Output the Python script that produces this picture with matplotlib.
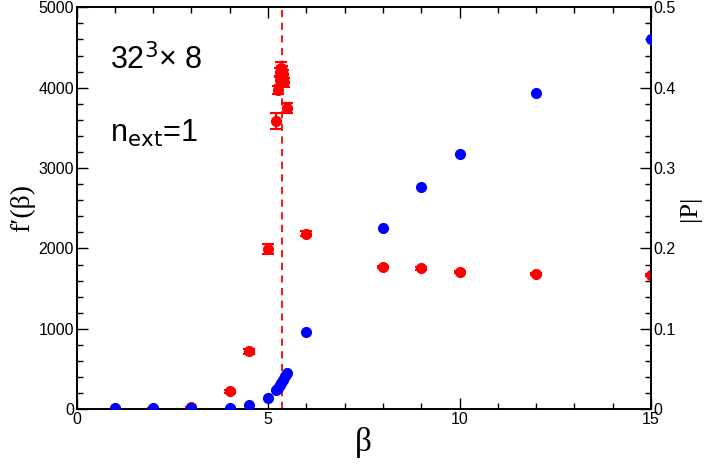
import matplotlib
matplotlib.use("Agg")
import matplotlib.pyplot as plt
from matplotlib.ticker import MultipleLocator, FuncFormatter

# f'(beta), left axis (red)
beta_f = [1, 2, 3, 4, 4.5, 5, 5.2, 5.25, 5.3, 5.32, 5.34, 5.36, 5.38, 5.4, 5.42, 5.5, 6, 8, 9, 10, 12, 15]
fprime = [5, 8, 25, 225, 720, 1990, 3590, 3970, 4090, 4190, 4250, 4215, 4165, 4115, 4065, 3745, 2185, 1768, 1752, 1705, 1680, 1668]
fprime_err = [3, 3, 5, 20, 35, 62, 100, 50, 60, 60, 70, 60, 55, 50, 50, 60, 30, 15, 15, 15, 15, 15]

# |P|, right axis (blue)
beta_p = [1, 2, 3, 4, 4.5, 5, 5.2, 5.25, 5.3, 5.35, 5.4, 5.45, 5.5, 6, 8, 9, 10, 12, 15]
polyakov = [0.001, 0.001, 0.001, 0.002, 0.0058, 0.014, 0.0236, 0.027, 0.030, 0.033, 0.037, 0.041, 0.0448, 0.0958, 0.2255, 0.276, 0.318, 0.394, 0.461]

beta_c = 5.37

serif = ["Liberation Serif", "DejaVu Serif"]
sans = ["Liberation Sans", "DejaVu Sans"]
plt.rcParams["font.family"] = sans

fig = plt.figure(figsize=(7.06, 4.66), dpi=100)
ax = fig.add_axes([0.1084, 0.1217, 0.8137, 0.8626])
ax2 = ax.twinx()

ax.errorbar(beta_f, fprime, yerr=fprime_err, fmt="o", color="red", ms=7,
            mec="red", ecolor="red", elinewidth=1.5, capsize=4.5, capthick=1.5, zorder=3)
ax.axvline(beta_c, color="red", ls=(0, (4, 3)), lw=1.3, zorder=2)
ax2.plot(beta_p, polyakov, "o", color="blue", ms=7, zorder=4)

ax.set_xlim(0, 15)
ax.set_ylim(0, 5000)
ax2.set_ylim(0, 0.5)

ax.xaxis.set_major_locator(MultipleLocator(5))
ax.xaxis.set_minor_locator(MultipleLocator(1))
ax.yaxis.set_major_locator(MultipleLocator(1000))
ax.yaxis.set_minor_locator(MultipleLocator(200))
ax2.yaxis.set_major_locator(MultipleLocator(0.1))
ax2.yaxis.set_minor_locator(MultipleLocator(0.02))
ax2.yaxis.set_major_formatter(FuncFormatter(lambda v, p: "0" if abs(v) < 1e-9 else f"{v:.1f}"))

ax.tick_params(which="both", direction="in", top=True, right=False, labelsize=11.5, width=1)
ax.tick_params(which="major", length=8)
ax.tick_params(which="minor", length=4.5)
ax2.tick_params(which="both", direction="in", labelsize=11.5, width=1)
ax2.tick_params(which="major", length=8)
ax2.tick_params(which="minor", length=4.5)
ax.tick_params(axis="x", pad=2)
ax.tick_params(axis="y", pad=2)
ax2.tick_params(axis="y", pad=2)

for a in (ax, ax2):
    for s in a.spines.values():
        s.set_linewidth(1.2)

ax.set_xlabel("β", family=serif, fontsize=24, labelpad=0)
ax.set_ylabel("f′(β)", family=serif, fontsize=20, labelpad=2)
ax2.set_ylabel("|P|", family=serif, fontsize=19, labelpad=2)

ax.text(0.058, 0.845, r"32$^{3}$× 8", transform=ax.transAxes, fontsize=22)
ax.text(0.058, 0.665, r"n$_{\mathrm{ext}}$=1", transform=ax.transAxes, fontsize=22)

fig.savefig("out.png", dpi=100)
